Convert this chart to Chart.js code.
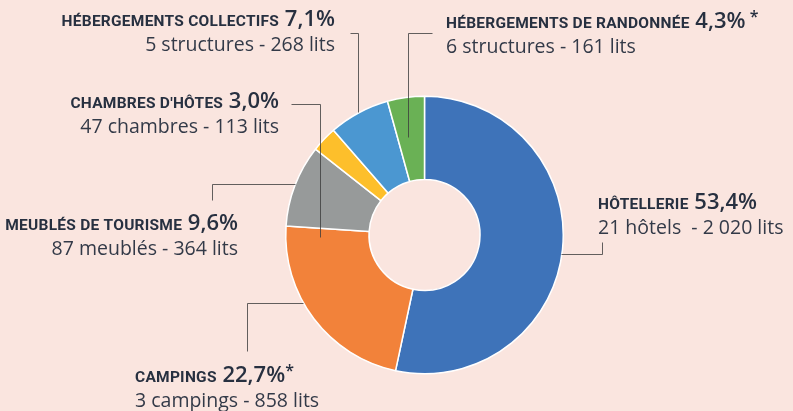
<!DOCTYPE html>
<html>
<head>
<meta charset="utf-8">
<script src="https://cdn.jsdelivr.net/npm/chart.js@4.4.1/dist/chart.umd.min.js"></script>
<style>
  html, body { margin: 0; padding: 0; background: #fae5df; }
  #wrap { width: 793px; height: 411px; position: relative; }
</style>
</head>
<body>
<div id="wrap"><canvas id="chart" width="793" height="411"></canvas></div>
<script>
// hébergements touristiques - part des lits
var categories = ['HÔTELLERIE', 'CAMPINGS', 'MEUBLÉS DE TOURISME', "CHAMBRES D'HÔTES", 'HÉBERGEMENTS COLLECTIFS', 'HÉBERGEMENTS DE RANDONNÉE'];
var shares = [53.4, 22.7, 9.6, 3.0, 7.1, 4.3];
var details = ['21 hôtels  - 2 020 lits', '3 campings - 858 lits', '87 meublés - 364 lits', '47 chambres - 113 lits', '5 structures - 268 lits', '6 structures - 161 lits'];
var stars = ['', '*', '', '', '', ' *'];
var colors = ['#3e73b9', '#f2823a', '#979a9a', '#fdbf2b', '#4b97d1', '#6ab155'];

// position of each label block + leader line (page layout only)
var labelPos = [
  { x: 598, y: 209, align: 'left',  line: [[561, 254], [602, 254], [602, 242]] },
  { x: 135, y: 382, align: 'left',  line: [[303, 303], [247, 303], [247, 351]] },
  { x: 238, y: 230, align: 'right', line: [[295, 184], [212, 184], [212, 200]] },
  { x: 279, y: 108, align: 'right', line: [[291, 104], [320, 104], [320, 237]] },
  { x: 335, y: 26,  align: 'right', line: [[350, 33], [358, 33], [358, 112]] },
  { x: 446, y: 28,  align: 'left',  line: [[432, 33], [408, 33], [408, 137]] }
];

var TXT = '#273040';

var labelsPlugin = {
  id: 'labels',
  afterDraw: function (chart) {
    var ctx = chart.ctx;
    ctx.save();
    // leader lines
    ctx.strokeStyle = 'rgba(60,60,60,0.8)';
    ctx.lineWidth = 1;
    labelPos.forEach(function (p) {
      ctx.beginPath();
      p.line.forEach(function (pt, i) {
        if (i == 0) ctx.moveTo(pt[0] + 0.5, pt[1] + 0.5);
        else ctx.lineTo(pt[0] + 0.5, pt[1] + 0.5);
      });
      ctx.stroke();
    });

    ctx.textBaseline = 'alphabetic';
    ctx.textAlign = 'left';
    ctx.fillStyle = TXT;
    var fCat = 'bold 15.5px Roboto';
    var fPct = '600 22px "Open Sans"';
    var fStar = '600 16px "Open Sans"';
    var fDet = '400 19.5px "Open Sans"';
    var sp = '0.25px';

    categories.forEach(function (cat, i) {
      var p = labelPos[i];
      var pct = ' ' + shares[i].toFixed(1).replace('.', ',') + '%';
      ctx.letterSpacing = sp;
      ctx.font = fCat; var w1 = ctx.measureText(cat).width;
      ctx.letterSpacing = '0px';
      ctx.font = fPct; var w2 = ctx.measureText(pct).width;
      ctx.font = fStar; var w3 = ctx.measureText(stars[i]).width;
      var total = w1 + w2 + w3;
      var x = p.align == 'right' ? p.x - total : p.x;
      ctx.letterSpacing = sp;
      ctx.font = fCat; ctx.fillText(cat, x, p.y);
      ctx.letterSpacing = '0px';
      ctx.font = fPct; ctx.fillText(pct, x + w1, p.y);
      ctx.font = fStar; ctx.fillText(stars[i], x + w1 + w2, p.y - 6);

      ctx.font = fDet;
      ctx.fillStyle = '#333a48';
      ctx.textAlign = p.align;
      ctx.fillText(details[i], p.x, p.y + 25);
      ctx.textAlign = 'left';
      ctx.fillStyle = TXT;
    });
    ctx.restore();
  }
};

var chart = new Chart(document.getElementById('chart'), {
  type: 'doughnut',
  data: {
    labels: categories,
    datasets: [{
      data: shares,
      backgroundColor: colors,
      borderColor: '#ffffff',
      borderWidth: 1.5
    }]
  },
  options: {
    responsive: false,
    animation: false,
    cutout: '40%',
    rotation: 0,
    layout: { padding: { left: 285, right: 229, top: 95.5, bottom: 36.5 } },
    plugins: {
      legend: { display: false },
      tooltip: { enabled: false }
    }
  },
  plugins: [labelsPlugin]
});
</script>
</body>
</html>
